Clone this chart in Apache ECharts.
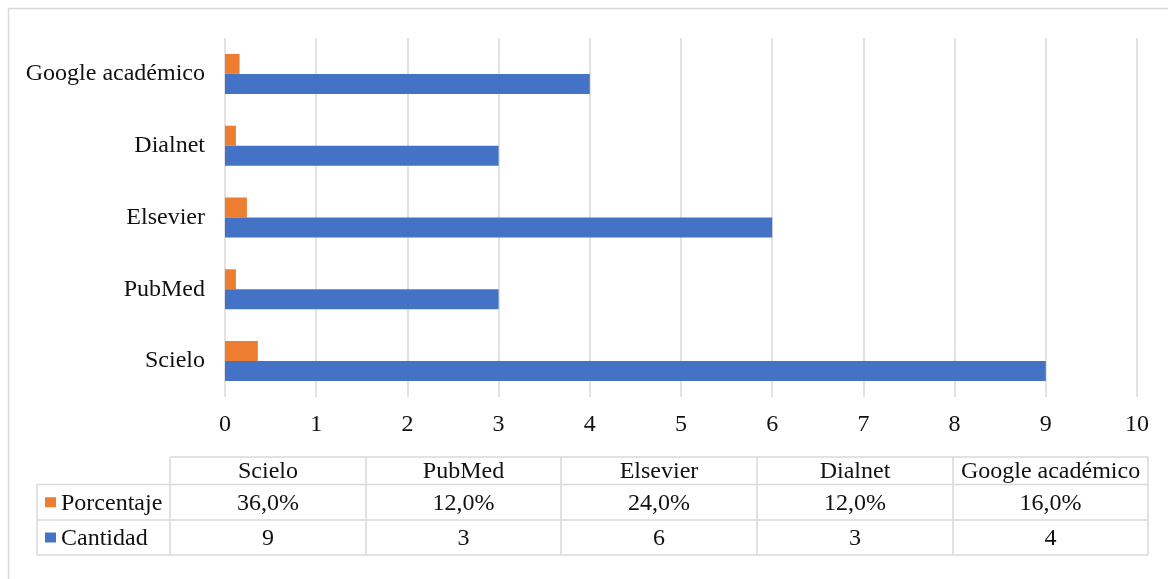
<!DOCTYPE html>
<html>
<head>
<meta charset="utf-8">
<script src="https://cdn.jsdelivr.net/npm/echarts@6/dist/echarts.min.js"></script>
<style>
html,body{margin:0;padding:0;background:#fff;}
#chart{width:1168px;height:579px;}
</style>
</head>
<body>
<div id="chart"></div>
<script>
const categories = ['Scielo', 'PubMed', 'Elsevier', 'Dialnet', 'Google académico'];
const porcentaje = [0.36, 0.12, 0.24, 0.12, 0.16];
const cantidad = [9, 3, 6, 3, 4];
const xTicks = [0, 1, 2, 3, 4, 5, 6, 7, 8, 9, 10];
const seriesNames = ['Porcentaje', 'Cantidad'];

const FONT = '"Liberation Serif", "Times New Roman", serif';
const FS = 24;
const ORANGE = '#ED7D31';
const BLUE = '#4472C4';
const LINE = '#d9d9d9';

const chart = echarts.init(document.getElementById('chart'), null, {renderer: 'canvas'});

// table geometry
const colX = [170, 366, 561, 757, 953, 1148];
const labelLeft = 37;
const rowY = [457, 484.5, 520, 555];

const g = [];
g.push({type: 'rect', shape: {x: 8.5, y: 8.5, width: 1175, height: 600},
  style: {fill: 'none', stroke: LINE, lineWidth: 1.5}, silent: true});
g.push({type: 'line', shape: {x1: colX[0], y1: rowY[0], x2: colX[5], y2: rowY[0]}, style: {stroke: LINE, lineWidth: 1.5}});
for (let i = 1; i < rowY.length; i++) {
  g.push({type: 'line', shape: {x1: labelLeft, y1: rowY[i], x2: colX[5], y2: rowY[i]}, style: {stroke: LINE, lineWidth: 1.5}});
}
g.push({type: 'line', shape: {x1: labelLeft, y1: rowY[1], x2: labelLeft, y2: rowY[3]}, style: {stroke: LINE, lineWidth: 1.5}});
for (let i = 0; i < colX.length; i++) {
  g.push({type: 'line', shape: {x1: colX[i], y1: rowY[0], x2: colX[i], y2: rowY[3]}, style: {stroke: LINE, lineWidth: 1.5}});
}
const fmtPct = v => (v * 100).toFixed(1).replace('.', ',') + '%';
const rows = [categories, porcentaje.map(fmtPct), cantidad.map(String)];
for (let r = 0; r < 3; r++) {
  const cy = (rowY[r] + rowY[r + 1]) / 2 + 1;
  for (let c = 0; c < 5; c++) {
    g.push({type: 'text', x: (colX[c] + colX[c + 1]) / 2, y: cy,
      style: {text: rows[r][c], font: FS + 'px ' + FONT, fill: '#111', align: 'center', verticalAlign: 'middle'}});
  }
}
const keyColors = [ORANGE, BLUE];
for (let i = 0; i < 2; i++) {
  const cy = (rowY[i + 1] + rowY[i + 2]) / 2;
  g.push({type: 'rect', shape: {x: 45, y: cy - 5, width: 11, height: 10}, style: {fill: keyColors[i]}});
  g.push({type: 'text', x: 61, y: cy + 1,
    style: {text: seriesNames[i], font: FS + 'px ' + FONT, fill: '#111', align: 'left', verticalAlign: 'middle'}});
}

chart.setOption({
  animation: false,
  backgroundColor: '#fff',
  grid: {left: 225, right: 31, top: 38, bottom: 182, containLabel: false},
  xAxis: {
    type: 'value', min: 0, max: 10, interval: 1,
    axisLine: {show: false}, axisTick: {show: false},
    splitLine: {show: true, lineStyle: {color: LINE, width: 1.5}},
    axisLabel: {margin: 16, fontSize: FS, fontFamily: FONT, color: '#111',
      formatter: v => xTicks.includes(v) ? String(v) : ''}
  },
  yAxis: {
    type: 'category', data: categories,
    axisLine: {show: false}, axisTick: {show: false},
    axisLabel: {margin: 20, fontSize: FS, fontFamily: FONT, color: '#111', padding: [4, 0, 0, 0]}
  },
  series: [
    {name: 'Porcentaje', type: 'bar', data: porcentaje, barWidth: 20, barGap: '0%', itemStyle: {color: ORANGE}},
    {name: 'Cantidad', type: 'bar', data: cantidad, barWidth: 20, barGap: '0%', itemStyle: {color: BLUE}}
  ],
  graphic: g
});
</script>
</body>
</html>
